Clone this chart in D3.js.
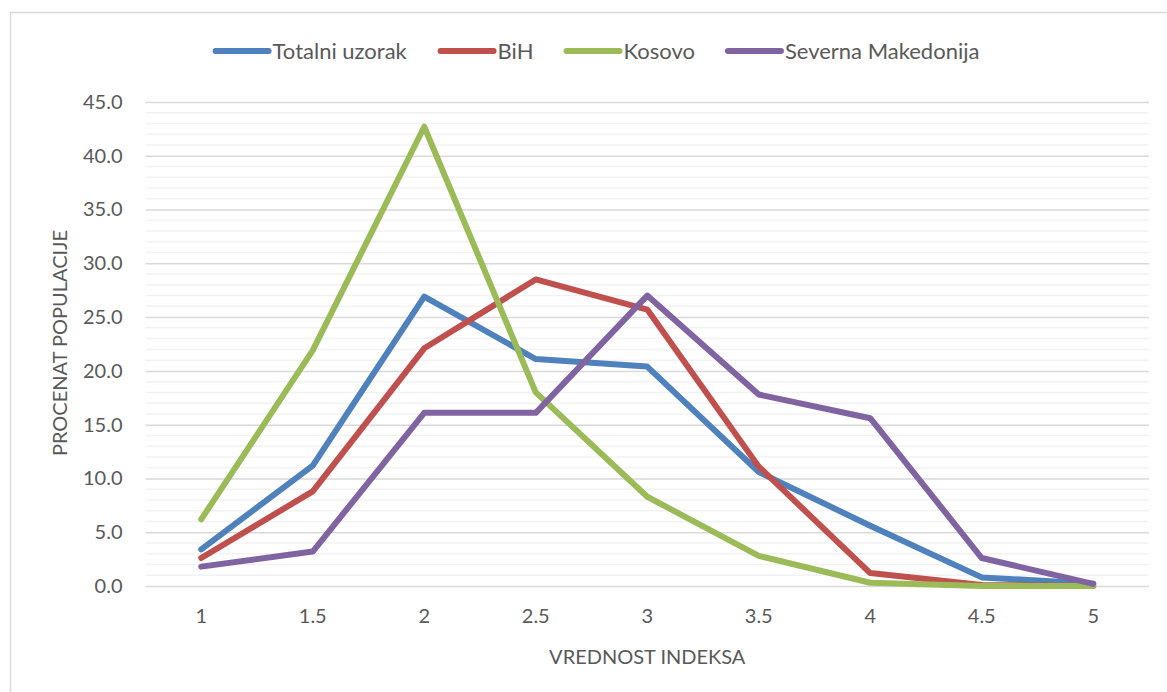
<!DOCTYPE html>
<html>
<head>
<meta charset="utf-8">
<script src="https://cdn.jsdelivr.net/npm/d3@7"></script>
<style>
  html, body { margin: 0; padding: 0; background: #fff; }
  svg text { font-family: Lato, "Liberation Sans", sans-serif; fill: #595959; }
</style>
</head>
<body>
<svg id="chart" width="1167" height="692"></svg>
<script>
// Index values on the category axis
const categories = ["1", "1.5", "2", "2.5", "3", "3.5", "4", "4.5", "5"];

// Share of population (%) per index value
const totalniUzorak     = [3.4, 11.2, 26.9, 21.1, 20.4, 10.6, 5.6, 0.8, 0.2];
const bih               = [2.6, 8.8, 22.1, 28.5, 25.7, 11.1, 1.2, 0.1, 0.0];
const kosovo            = [6.2, 21.9, 42.7, 18.0, 8.3, 2.8, 0.3, 0.0, 0.0];
const severnaMakedonija = [1.8, 3.2, 16.1, 16.1, 27.0, 17.8, 15.6, 2.6, 0.2];

const seriesNames  = ["Totalni uzorak", "BiH", "Kosovo", "Severna Makedonija"];
const seriesColors = ["#4F81BD", "#C0504D", "#9BBB59", "#8064A2"];
const seriesValues = [totalniUzorak, bih, kosovo, severnaMakedonija];

const yTicks = [0, 5, 10, 15, 20, 25, 30, 35, 40, 45];

const svg = d3.select("#chart");

// outer chart frame
svg.append("rect")
  .attr("x", 10.5).attr("y", 12.5)
  .attr("width", 1170).attr("height", 700)
  .attr("fill", "none").attr("stroke", "#D9D9D9").attr("stroke-width", 1.5);

const plot = { left: 145.5, right: 1149, top: 102, bottom: 586 };

const x = d3.scaleBand().domain(categories).range([plot.left, plot.right]);
const y = d3.scaleLinear().domain([0, 45]).range([plot.bottom, plot.top]);

// minor gridlines every 1
const minor = d3.range(1, 45).filter(v => v % 5 !== 0);
svg.append("g").selectAll("line").data(minor).join("line")
  .attr("x1", plot.left).attr("x2", plot.right)
  .attr("y1", d => y(d)).attr("y2", d => y(d))
  .attr("stroke", "#F2F2F2").attr("stroke-width", 1.5);

// major gridlines and y axis labels
const yAxis = d3.axisLeft(y).tickValues(yTicks).tickSize(-(plot.right - plot.left))
  .tickPadding(23).tickFormat(d3.format(".1f"));
const gy = svg.append("g").attr("transform", `translate(${plot.left},0)`).call(yAxis);
gy.select(".domain").remove();
gy.selectAll(".tick line").attr("stroke", "#D9D9D9").attr("stroke-width", 1.5);
gy.selectAll(".tick text").attr("font-size", 20).style("fill", "#595959");

// x axis labels
const xAxis = d3.axisBottom(x).tickSize(0).tickPadding(23);
const gx = svg.append("g").attr("transform", `translate(0,${plot.bottom})`).call(xAxis);
gx.select(".domain").remove();
gx.selectAll(".tick text").attr("font-size", 20).style("fill", "#595959");

// series lines
const line = d3.line()
  .x((d, i) => x(categories[i]) + x.bandwidth() / 2)
  .y(d => y(d));

svg.append("g").selectAll("path").data(seriesValues).join("path")
  .attr("d", d => line(d))
  .attr("fill", "none")
  .attr("stroke", (d, i) => seriesColors[i])
  .attr("stroke-width", 6)
  .attr("stroke-linejoin", "round")
  .attr("stroke-linecap", "round");

// axis titles
svg.append("text")
  .attr("x", (plot.left + plot.right) / 2).attr("y", 664)
  .attr("text-anchor", "middle").attr("font-size", 20)
  .text("VREDNOST INDEKSA");

svg.append("text")
  .attr("transform", `translate(67,${(plot.top + plot.bottom) / 2 - 1}) rotate(-90)`)
  .attr("text-anchor", "middle").attr("font-size", 20)
  .text("PROCENAT POPULACIJE");

// legend
const legend = svg.append("g");
const items = legend.selectAll("g").data(seriesNames).join("g");
items.append("line")
  .attr("x1", 0).attr("x2", 53).attr("y1", 0).attr("y2", 0)
  .attr("stroke", (d, i) => seriesColors[i])
  .attr("stroke-width", 6).attr("stroke-linecap", "round");
items.append("text")
  .attr("x", 57).attr("dy", "0.35em").attr("font-size", 22)
  .text(d => d);

let cx = 0;
const gap = 33;
items.each(function () {
  d3.select(this).attr("transform", `translate(${cx},0)`);
  cx += this.getBBox().width + gap;
});
const legendWidth = cx - gap;
legend.attr("transform", `translate(${(210 + 985) / 2 - legendWidth / 2},51)`);
</script>
</body>
</html>
